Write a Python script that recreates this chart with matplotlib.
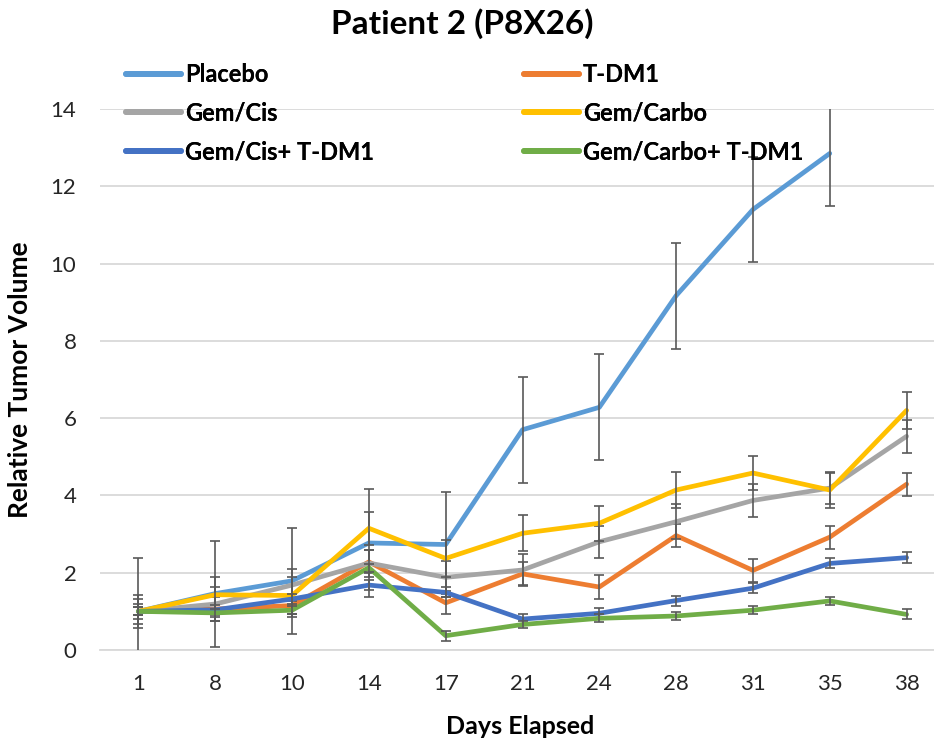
import numpy as np
import matplotlib
matplotlib.use('Agg')
import matplotlib.pyplot as plt

plt.rcParams['font.family'] = ['Lato', 'DejaVu Sans']

# Data
days = ['1', '8', '10', '14', '17', '21', '24', '28', '31', '35', '38']

placebo = [1.0, 1.46, 1.79, 2.77, 2.73, 5.70, 6.28, 9.17, 11.40, 12.85, np.nan]
placebo_err = [1.37, 1.37, 1.37, 1.40, 1.37, 1.37, 1.37, 1.37, 1.37, 1.37, np.nan]

tdm1 = [1.0, 1.06, 1.15, 2.28, 1.22, 1.97, 1.63, 2.96, 2.06, 2.92, 4.29]
tdm1_err = [0.42, 0.30, 0.30, 0.30, 0.30, 0.30, 0.30, 0.30, 0.30, 0.30, 0.30]

gem_cis = [1.0, 1.19, 1.68, 2.25, 1.88, 2.07, 2.80, 3.32, 3.87, 4.19, 5.53]
gem_cis_err = [0.33, 0.45, 0.42, 0.35, 0.42, 0.42, 0.42, 0.46, 0.43, 0.40, 0.43]

gem_carbo = [1.0, 1.43, 1.41, 3.15, 2.37, 3.02, 3.28, 4.14, 4.58, 4.14, 6.20]
gem_carbo_err = [0.20, 0.47, 0.47, 0.43, 0.47, 0.47, 0.45, 0.47, 0.45, 0.47, 0.47]

gem_cis_tdm1 = [1.0, 1.04, 1.32, 1.68, 1.49, 0.80, 0.95, 1.28, 1.60, 2.24, 2.39]
gem_cis_tdm1_err = [0.10, 0.13, 0.13, 0.13, 0.13, 0.13, 0.13, 0.13, 0.13, 0.13, 0.15]

gem_carbo_tdm1 = [1.0, 0.96, 1.03, 2.13, 0.37, 0.66, 0.82, 0.88, 1.03, 1.27, 0.92]
gem_carbo_tdm1_err = [0.10, 0.10, 0.10, 0.10, 0.13, 0.10, 0.10, 0.10, 0.10, 0.10, 0.13]

labels = ['Placebo', 'T-DM1', 'Gem/Cis', 'Gem/Carbo', 'Gem/Cis+ T-DM1', 'Gem/Carbo+ T-DM1']
series = [placebo, tdm1, gem_cis, gem_carbo, gem_cis_tdm1, gem_carbo_tdm1]
errors = [placebo_err, tdm1_err, gem_cis_err, gem_carbo_err, gem_cis_tdm1_err, gem_carbo_tdm1_err]
colors = ['#5B9BD5', '#ED7D31', '#A5A5A5', '#FFC000', '#4472C4', '#70AD47']

fig = plt.figure(figsize=(9.34, 7.43), dpi=100)
ax = fig.add_axes([100 / 934, 1 - 650 / 743, 845 / 934, 541 / 743])

x = np.arange(len(days))
handles = {}
for i, (y, e, lab, c) in enumerate(zip(series, errors, labels, colors)):
    line, = ax.plot(x, y, color=c, lw=3.4, solid_capstyle='round',
                    solid_joinstyle='round', label=lab, zorder=3 + i)
    ax.errorbar(x, y, yerr=e, fmt='none', ecolor='#595959', elinewidth=1.2,
                capsize=3.8, capthick=1.2, zorder=3 + i)
    handles[lab] = line

ax.set_xlim(-0.5, len(days) - 0.5)
ax.set_ylim(0, 14)
ax.set_yticks(np.arange(0, 15, 2))
ax.set_xticks(x)
ax.set_xticklabels(days)

ax.grid(axis='y', color='#D9D9D9', lw=1.3)
ax.set_axisbelow(True)
for s in ['top', 'right', 'left']:
    ax.spines[s].set_visible(False)
ax.spines['bottom'].set_color('#D9D9D9')
ax.spines['bottom'].set_linewidth(1.3)
ax.tick_params(axis='both', length=0, labelsize=16, labelcolor='#262626')
ax.tick_params(axis='y', pad=17)
ax.tick_params(axis='x', pad=17)

fig.text(20 / 934, 1 - 380 / 743, 'Relative Tumor Volume', rotation=90,
         ha='center', va='center', fontsize=19, fontweight='bold')
fig.text(520 / 934, 1 - 726 / 743, 'Days Elapsed', ha='center', va='center',
         fontsize=18, fontweight='bold')
fig.text(462 / 934, 1 - 24 / 743, 'Patient 2 (P8X26)', ha='center', va='center',
         fontsize=24, fontweight='bold')

# two legend columns, each laid out row by row like the original
col1 = ['Placebo', 'Gem/Cis', 'Gem/Cis+ T-DM1']
col2 = ['T-DM1', 'Gem/Carbo', 'Gem/Carbo+ T-DM1']
for names, xpos in [(col1, 126), (col2, 524)]:
    leg = fig.legend([handles[k] for k in names], names, frameon=False,
                     loc='upper left', bbox_to_anchor=(xpos / 934, 1 - 63 / 743),
                     borderpad=0, borderaxespad=0,
                     prop={'weight': 'bold', 'size': 17}, handlelength=2.35,
                     handletextpad=0.15, labelspacing=0.66)
    for h in leg.legend_handles:
        h.set_linewidth(4.2)
    fig.add_artist(leg)

fig.savefig('out.png', dpi=100)
